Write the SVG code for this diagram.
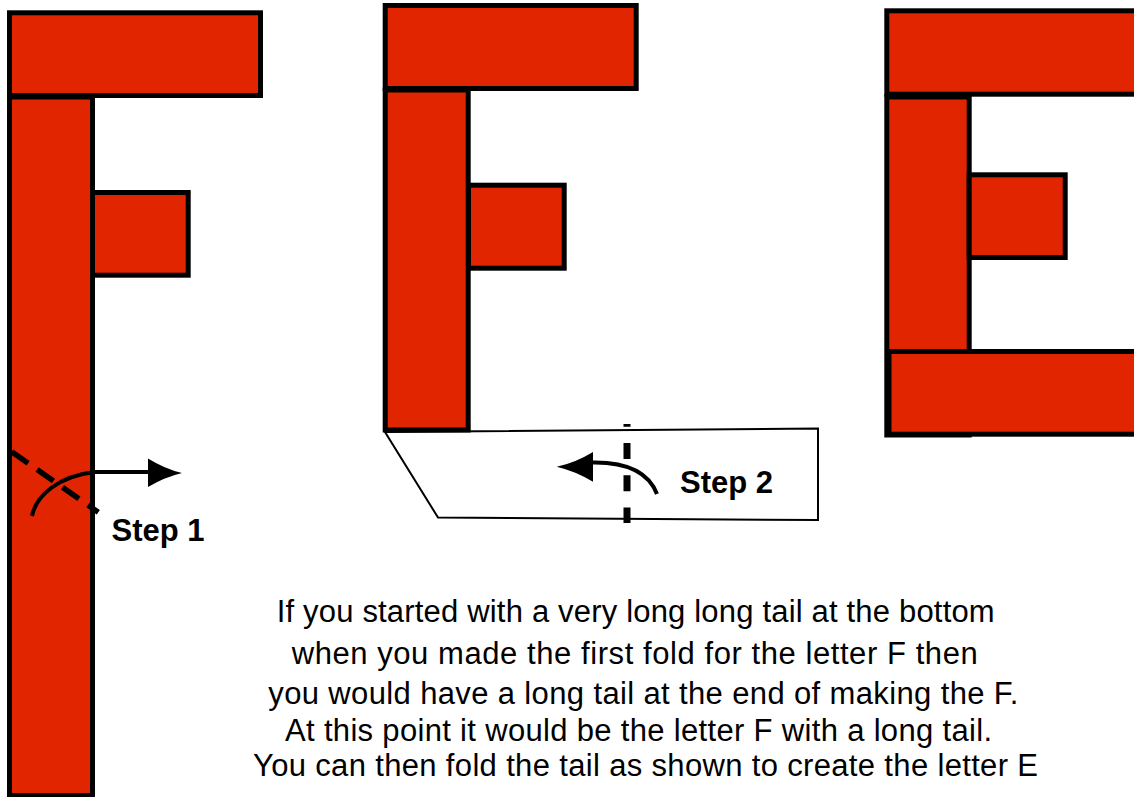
<svg xmlns="http://www.w3.org/2000/svg" width="1134" height="797" viewBox="0 0 1134 797">
  <style>
    .piece { fill: #e12500; stroke: #000; stroke-width: 5; }
    .band { fill: #fff; stroke: #000; stroke-width: 2; }
    .fold { fill: none; stroke: #000; stroke-dasharray: 20 11; }
    .arc { fill: none; stroke: #000; stroke-width: 4; }
    .head { fill: #000; stroke: none; }
    .label { font-family: "Liberation Sans", Arial, sans-serif; font-size: 31px; font-weight: bold; fill: #000; }
    .para { font-family: "Liberation Sans", Arial, sans-serif; font-size: 31px; fill: #000; }
  </style>
  <rect width="1134" height="797" fill="#fff"/>

  <g id="letter-f-long-tail">
    <rect class="piece" x="9.5" y="97" width="83" height="698.5"/>
    <rect class="piece" x="9.5" y="12.8" width="251" height="82.7"/>
    <rect class="piece" x="92.5" y="192.5" width="95.7" height="82.7"/>
  </g>

  <g id="letter-f-folded">
    <polygon class="band" points="385,432 818,428.5 818,520 438,517.5"/>
    <rect class="piece" x="385.2" y="90" width="83" height="340"/>
    <rect class="piece" x="385.2" y="5.5" width="251" height="83"/>
    <rect class="piece" x="468.5" y="185.2" width="95.7" height="83"/>
  </g>

  <g id="letter-e">
    <rect class="piece" x="886.8" y="97" width="82.4" height="338"/>
    <rect class="piece" x="886.8" y="10.8" width="260" height="83.4"/>
    <rect class="piece" x="969.2" y="174.8" width="96" height="82.7"/>
    <rect class="piece" x="889" y="351.5" width="260" height="82.7"/>
  </g>

  <g id="connectors">
    <g id="step1-fold">
      <line class="fold" x1="11.7" y1="451.7" x2="98.3" y2="512.3" stroke-width="5.5"/>
      <path class="arc" d="M32,516 C36,496 58,476 95,472 L150,472"/>
      <path class="head" d="M182,473 Q165,469 148,458.5 L148,487 Q165,477 182,473 Z"/>
    </g>
    <g id="step2-fold">
      <line x1="627" y1="424" x2="627" y2="523" stroke="#000" stroke-width="7" stroke-dasharray="16 16.3" stroke-dashoffset="13.3"/>
      <path class="arc" d="M657,494 C650,476 632,462 593,462.5"/>
      <path class="head" d="M556.7,466.7 Q575,463 593,452 L593,481.7 Q575,471 556.7,466.7 Z"/>
    </g>
  </g>

  <g id="labels">
    <text class="label" x="111.5" y="541">Step 1</text>
    <text class="label" x="680" y="492.7">Step 2</text>
  </g>

  <g id="caption">
    <text class="para" x="276.7" y="621.7" textLength="718">If you started with a very long long tail at the bottom</text>
    <text class="para" x="291.7" y="664" textLength="686">when you made the first fold for the letter F then</text>
    <text class="para" x="268.3" y="704" textLength="750">you would have a long tail at the end of making the F.</text>
    <text class="para" x="285" y="740.5" textLength="707">At this point it would be the letter F with a long tail.</text>
    <text class="para" x="253" y="776" textLength="785">You can then fold the tail as shown to create the letter E</text>
  </g>
</svg>
